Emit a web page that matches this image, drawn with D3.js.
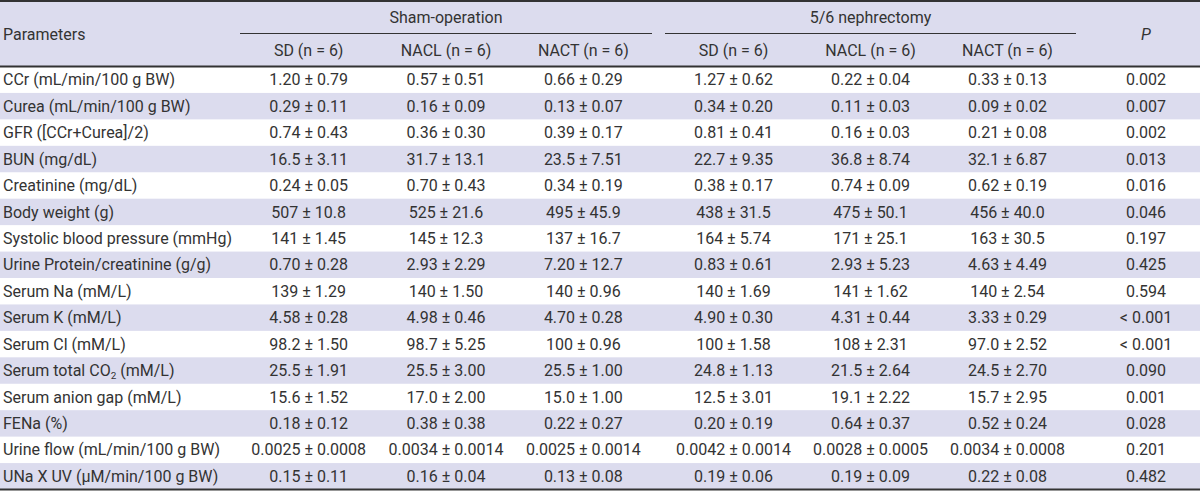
<!DOCTYPE html>
<html><head><meta charset="utf-8">
<script src="https://cdn.jsdelivr.net/npm/d3@7"></script>
<style>
html,body{margin:0;padding:0;background:#fff;}
svg text{font-family:Roboto,"Liberation Sans",sans-serif;fill:#333;}
</style></head>
<body><svg id="t" width="1200" height="493"></svg>
<script>
const parameters = ["CCr (mL/min/100 g BW)","Curea (mL/min/100 g BW)","GFR ([CCr+Curea]/2)","BUN (mg/dL)","Creatinine (mg/dL)","Body weight (g)","Systolic blood pressure (mmHg)","Urine Protein/creatinine (g/g)","Serum Na (mM/L)","Serum K (mM/L)","Serum Cl (mM/L)","Serum total CO\u2082 (mM/L)","Serum anion gap (mM/L)","FENa (%)","Urine flow (mL/min/100 g BW)","UNa X UV (\u03bcM/min/100 g BW)"];
const groups = ["Sham-operation","5/6 nephrectomy"];
const subgroups = ["SD (n = 6)","NACL (n = 6)","NACT (n = 6)"];
// mean ± SD for each column
const shamSD   = [["1.20","0.79"],["0.29","0.11"],["0.74","0.43"],["16.5","3.11"],["0.24","0.05"],["507","10.8"],["141","1.45"],["0.70","0.28"],["139","1.29"],["4.58","0.28"],["98.2","1.50"],["25.5","1.91"],["15.6","1.52"],["0.18","0.12"],["0.0025","0.0008"],["0.15","0.11"]];
const shamNACL = [["0.57","0.51"],["0.16","0.09"],["0.36","0.30"],["31.7","13.1"],["0.70","0.43"],["525","21.6"],["145","12.3"],["2.93","2.29"],["140","1.50"],["4.98","0.46"],["98.7","5.25"],["25.5","3.00"],["17.0","2.00"],["0.38","0.38"],["0.0034","0.0014"],["0.16","0.04"]];
const shamNACT = [["0.66","0.29"],["0.13","0.07"],["0.39","0.17"],["23.5","7.51"],["0.34","0.19"],["495","45.9"],["137","16.7"],["7.20","12.7"],["140","0.96"],["4.70","0.28"],["100","0.96"],["25.5","1.00"],["15.0","1.00"],["0.22","0.27"],["0.0025","0.0014"],["0.13","0.08"]];
const nxSD     = [["1.27","0.62"],["0.34","0.20"],["0.81","0.41"],["22.7","9.35"],["0.38","0.17"],["438","31.5"],["164","5.74"],["0.83","0.61"],["140","1.69"],["4.90","0.30"],["100","1.58"],["24.8","1.13"],["12.5","3.01"],["0.20","0.19"],["0.0042","0.0014"],["0.19","0.06"]];
const nxNACL   = [["0.22","0.04"],["0.11","0.03"],["0.16","0.03"],["36.8","8.74"],["0.74","0.09"],["475","50.1"],["171","25.1"],["2.93","5.23"],["141","1.62"],["4.31","0.44"],["108","2.31"],["21.5","2.64"],["19.1","2.22"],["0.64","0.37"],["0.0028","0.0005"],["0.19","0.09"]];
const nxNACT   = [["0.33","0.13"],["0.09","0.02"],["0.21","0.08"],["32.1","6.87"],["0.62","0.19"],["456","40.0"],["163","30.5"],["4.63","4.49"],["140","2.54"],["3.33","0.29"],["97.0","2.52"],["24.5","2.70"],["15.7","2.95"],["0.52","0.24"],["0.0034","0.0008"],["0.22","0.08"]];
const pValues  = ["0.002","0.007","0.002","0.013","0.016","0.046","0.197","0.425","0.594","< 0.001","< 0.001","0.090","0.001","0.028","0.201","0.482"];

const columns = [shamSD, shamNACL, shamNACT, nxSD, nxNACL, nxNACT];

const W = 1200, FS = 16;
const svg = d3.select("#t");
const headTop = 1, headBot = 66.5, tableBot = 489.5;

const y = d3.scaleBand().domain(d3.range(parameters.length)).range([headBot, tableBot]);
const gx = d3.scaleOrdinal().domain(groups).range([[240, 652], [665, 1076]]);
const sx = groups.map(g => d3.scaleBand().domain(subgroups).range(gx(g)));
const colCenter = i => { const s = sx[Math.floor(i / 3)]; const k = subgroups[i % 3]; return s(k) + s.bandwidth() / 2; };
const pX = 1146;

// header background
svg.append("rect").attr("x", 0).attr("y", headTop).attr("width", W).attr("height", headBot - headTop).attr("fill", "#dcdcee");
// striped rows
svg.selectAll("rect.row").data(d3.range(parameters.length).filter(i => i % 2 === 1)).join("rect")
  .attr("class", "row").attr("x", 0).attr("y", i => y(i)).attr("width", W).attr("height", y.bandwidth()).attr("fill", "#dcdcee");

// rules
svg.append("line").attr("x1", 0).attr("x2", W).attr("y1", headTop).attr("y2", headTop).attr("stroke", "#333").attr("stroke-width", 2);
svg.append("line").attr("x1", 0).attr("x2", W).attr("y1", headBot).attr("y2", headBot).attr("stroke", "#333").attr("stroke-width", 2);
svg.append("line").attr("x1", 0).attr("x2", W).attr("y1", tableBot).attr("y2", tableBot).attr("stroke", "#333").attr("stroke-width", 2);
svg.selectAll("line.grp").data(groups).join("line").attr("class", "grp")
  .attr("x1", g => gx(g)[0]).attr("x2", g => gx(g)[1]).attr("y1", 33.5).attr("y2", 33.5).attr("stroke", "#333").attr("stroke-width", 1);

// header text
svg.append("text").attr("x", 3).attr("y", 34).attr("dy", "0.35em").attr("font-size", FS).text("Parameters");
svg.selectAll("text.grp").data(groups).join("text").attr("class", "grp")
  .attr("x", g => (gx(g)[0] + gx(g)[1]) / 2).attr("y", 17).attr("dy", "0.35em").attr("text-anchor", "middle").attr("font-size", FS).text(g => g);
svg.selectAll("text.sub").data(d3.range(6)).join("text").attr("class", "sub")
  .attr("x", i => colCenter(i)).attr("y", 50).attr("dy", "0.35em").attr("text-anchor", "middle").attr("font-size", FS).text(i => subgroups[i % 3]);
svg.append("text").attr("x", pX).attr("y", 34).attr("dy", "0.35em").attr("text-anchor", "middle").attr("font-size", FS).attr("font-style", "italic").text("P");

// body
const rowC = i => y(i) + y.bandwidth() / 2;
const pt = svg.selectAll("text.param").data(parameters).join("text").attr("class", "param")
  .attr("x", 3).attr("y", (d, i) => rowC(i)).attr("dy", "0.35em").attr("font-size", FS);
pt.each(function(d) {
  const t = d3.select(this);
  if (d.includes("\u2082")) {
    const parts = d.split("\u2082");
    t.append("tspan").text(parts[0]);
    t.append("tspan").attr("font-size", FS * 0.62).attr("dy", "0.25em").text("2");
    t.append("tspan").attr("dy", "-0.155em").text(parts[1]);
  } else t.text(d);
});
columns.forEach((col, ci) => {
  svg.selectAll("text.c" + ci).data(col).join("text").attr("class", "c" + ci)
    .attr("x", colCenter(ci)).attr("y", (d, i) => rowC(i)).attr("dy", "0.35em").attr("text-anchor", "middle").attr("font-size", FS)
    .text(d => d[0] + " \u00b1 " + d[1]);
});
svg.selectAll("text.p").data(pValues).join("text").attr("class", "p")
  .attr("x", pX).attr("y", (d, i) => rowC(i)).attr("dy", "0.35em").attr("text-anchor", "middle").attr("font-size", FS).text(d => d);
</script></body></html>
